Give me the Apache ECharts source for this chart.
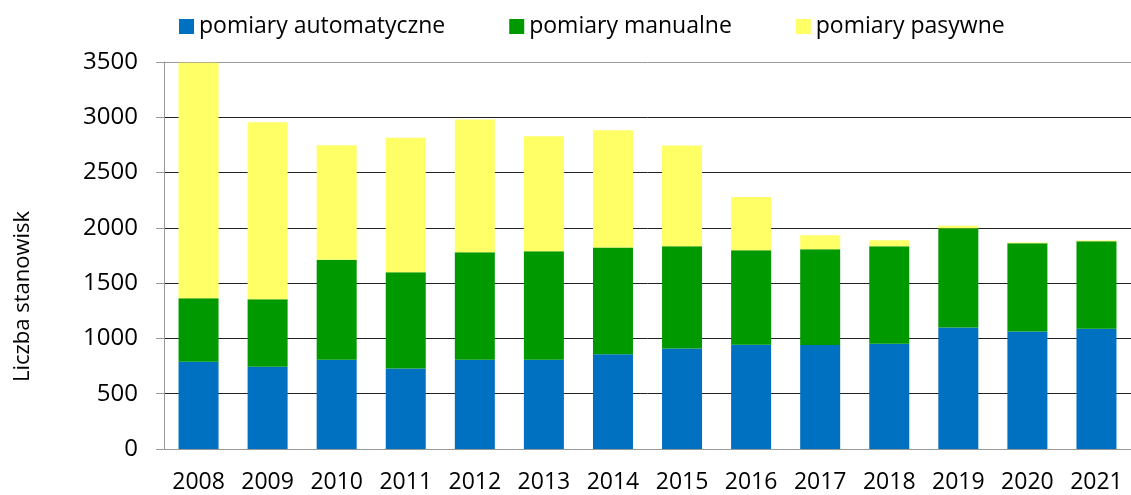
<!DOCTYPE html>
<html lang="pl">
<head>
    <meta charset="UTF-8">
    <title>Liczba stanowisk</title>
    <script src="https://cdn.jsdelivr.net/npm/echarts@6/dist/echarts.min.js"></script>
    <style>
        html, body { margin: 0; padding: 0; background: #fff; }
        #chart { width: 1131px; height: 495px; }
    </style>
</head>
<body>
<div id="chart"></div>
<script type="text/javascript">
    // lata
    var years = ['2008', '2009', '2010', '2011', '2012', '2013', '2014', '2015', '2016', '2017', '2018', '2019', '2020', '2021'];
    // serie
    var seriesNames = ['pomiary automatyczne', 'pomiary manualne', 'pomiary pasywne'];
    var autoData = [789, 744, 807, 729, 807, 807, 858, 910, 943, 940, 952, 1099, 1063, 1087];
    var manualData = [575, 611, 904, 870, 973, 982, 964, 924, 855, 867, 882, 898, 798, 792];
    var passiveData = [2130, 1600, 1036, 1217, 1199, 1039, 1060, 910, 482, 127, 55, 21, 6, 6];
    var colors = ['#0070C0', '#009900', '#FFFF66'];

    var font = "'Open Sans', 'Noto Sans', sans-serif";

    var chart = echarts.init(document.getElementById('chart'));

    function bar(name, data) {
        return {
            name: name,
            type: 'bar',
            stack: 'total',
            barWidth: 40,
            data: data
        };
    }

    var option = {
        animation: false,
        color: colors,
        textStyle: { fontFamily: font },
        legend: {
            left: 174,
            top: 10,
            itemWidth: 15,
            itemHeight: 15,
            itemGap: 64,
            icon: 'rect',
            textStyle: { fontSize: 23, color: '#000', fontFamily: font },
            data: seriesNames
        },
        grid: {
            left: 164,
            right: 0,
            top: 62,
            bottom: 46
        },
        xAxis: {
            type: 'category',
            data: years,
            axisLine: { lineStyle: { color: '#999', width: 1 } },
            axisTick: { show: false },
            axisLabel: { color: '#000', fontSize: 23, margin: 22, interval: 0, fontFamily: font }
        },
        yAxis: {
            type: 'value',
            min: 0,
            max: 3500,
            interval: 500,
            name: 'Liczba stanowisk',
            nameLocation: 'middle',
            nameGap: 130,
            nameTextStyle: { color: '#000', fontSize: 22, fontFamily: font, padding: [0, 82, 0, 0] },
            axisLine: { show: true, lineStyle: { color: '#999' } },
            axisTick: { show: true, inside: false, length: 8, lineStyle: { color: '#999' } },
            axisLabel: {
                color: '#000', fontSize: 24, margin: 26, fontFamily: font,
                formatter: function (v) { return String(v); }
            },
            splitLine: {
                lineStyle: {
                    color: ['#999', '#222', '#222', '#222', '#222', '#222', '#222', '#999'],
                    width: 1
                }
            }
        },
        series: [
            bar(seriesNames[0], autoData),
            bar(seriesNames[1], manualData),
            bar(seriesNames[2], passiveData)
        ]
    };
    chart.setOption(option);
</script>
</body>
</html>
